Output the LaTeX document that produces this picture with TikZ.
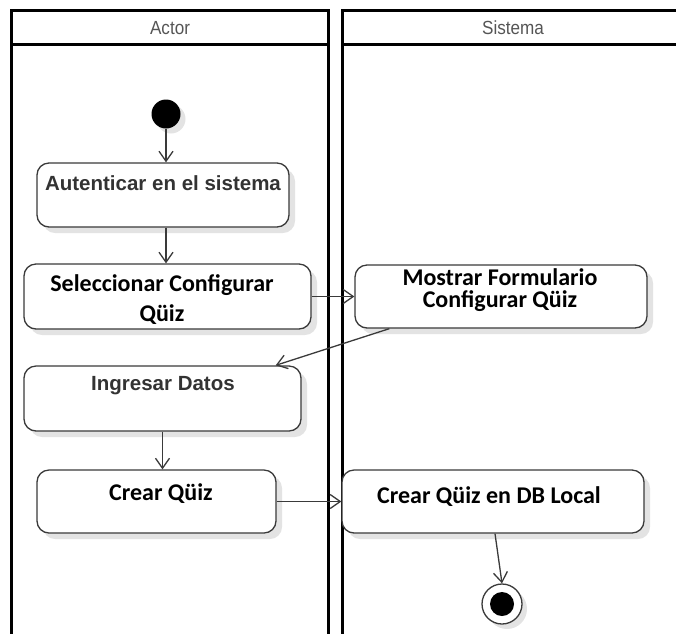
\documentclass[tikz,border=0pt]{standalone}
\usepackage{fontspec}
\setmainfont{Liberation Sans}
\newfontfamily\calfont{Carlito}
\newfontfamily\arfont{Liberation Sans}
\usetikzlibrary{arrows.meta,shadows,calc}
\definecolor{edgec}{HTML}{3A3A3A}
\definecolor{hdrtxt}{HTML}{555555}
\definecolor{graytxt}{HTML}{333333}
\tikzset{
  lane/.style={draw=black, line width=3pt},
  act/.style={draw=edgec, line width=1.3pt, rounded corners=12pt, fill=white,
    general shadow={fill=black!11, shadow xshift=6pt, shadow yshift=-6pt}},
  flow/.style={draw=edgec, line width=1.3pt, -{Straight Barb[length=10pt,width=14pt,line width=1.3pt]}},
  hdr/.style={font=\arfont\fontsize{19}{22}\selectfont, text=hdrtxt, xscale=0.9},
  txtA/.style={font=\arfont\bfseries\fontsize{20.5}{24}\selectfont, text=graytxt},
  txtC/.style={font=\calfont\bfseries\fontsize{24}{24}\selectfont, text=black, align=center},
}
\begin{document}
\begin{tikzpicture}[x=1pt,y=-1pt]
\useasboundingbox (0,0) rectangle (676,633);
% lanes
\draw[lane] (11.5,640) -- (11.5,10) -- (328.5,10) -- (328.5,640);
\draw[lane] (11.5,44) -- (328.5,44);
\draw[lane] (342,640) -- (342,10) -- (690,10);
\draw[lane] (342,44) -- (690,44);
\node[hdr] (hactor) at (170,28) {Actor};
\node[hdr] (hsis) at (513,28) {Sistema};
% start
\node[circle, fill=black, minimum size=29pt, inner sep=0pt,
  general shadow={fill=black!11, shadow xshift=5pt, shadow yshift=-5pt}] (start) at (166,114) {};
% activities
\node[act, minimum width=252pt, minimum height=64pt] (aut) at (163,195) {};
\node[txtA] (autt) at (163,183) {Autenticar en el sistema};
\node[act, minimum width=287pt, minimum height=65pt] (sel) at (167.5,296.5) {};
\node[txtC, font=\calfont\bfseries\fontsize{24}{30}\selectfont] (selt) at (162,300) {Seleccionar Configurar\\Qüiz};
\node[act, minimum width=292pt, minimum height=63pt] (mos) at (501,296.5) {};
\node[txtC, font=\calfont\bfseries\fontsize{24}{22}\selectfont] (most) at (500,290) {Mostrar Formulario\\Configurar Qüiz};
\node[act, minimum width=277pt, minimum height=65pt] (ing) at (162.5,398.5) {};
\node[txtA] (ingt) at (163,386) {Ingresar Datos};
\node[act, minimum width=239pt, minimum height=63pt] (cq) at (156.5,501.5) {};
\node[txtC] (cqt) at (161,494) {Crear Qüiz};
\node[act, minimum width=302pt, minimum height=63pt] (db) at (493,501.5) {};
\node[txtC] (dbt) at (489,497) {Crear Qüiz en DB Local};
% final
\node[circle, draw=edgec, line width=1.3pt, fill=white, minimum size=40pt, inner sep=0pt,
  general shadow={fill=black!11, shadow xshift=5pt, shadow yshift=-5pt}] (fin) at (502,604) {};
\node[circle, fill=black, minimum size=24pt, inner sep=0pt] (fini) at (fin) {};
% flows
\draw[flow] (start.south) -- (start.south |- aut.north);
\draw[flow] (aut.south -| start.south) -- (sel.north -| start.south);
\draw[flow] (sel.east) -- (mos.west);
\draw[flow] ($(mos.south west)+(35,0)$) -- ($(ing.north east)+(-26,0)$);
\draw[flow] (ing.south) -- (ing.south |- cq.north);
\draw[flow] (cq.east) -- (db.west);
\draw[flow] ($(db.south)+(2,0)$) -- (fin.north);
\end{tikzpicture}
\end{document}
